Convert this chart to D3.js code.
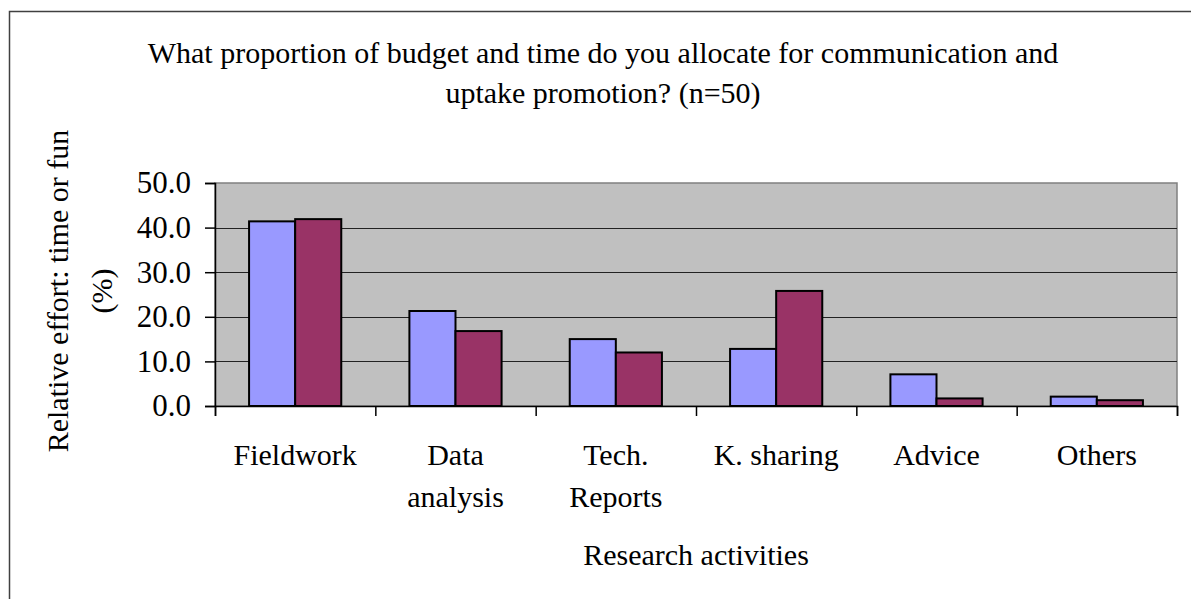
<!DOCTYPE html>
<html>
<head>
<meta charset="utf-8">
<script src="https://cdn.jsdelivr.net/npm/d3@7"></script>
<style>
  html, body { margin: 0; padding: 0; background: #fff; }
  svg { display: block; font-family: "Liberation Serif", serif; }
  svg text, svg tspan { font-family: "Liberation Serif", serif !important; fill: #000; }
</style>
</head>
<body>
<svg id="chart" width="1191" height="599"></svg>
<script>
// ---- data ----
const categories = [["Fieldwork"], ["Data", "analysis"], ["Tech.", "Reports"], ["K. sharing"], ["Advice"], ["Others"]];
const seriesNames = ["Time", "Funds"];
const timeValues = [41.4, 21.3, 15.0, 12.8, 7.1, 2.1];
const fundValues = [41.9, 16.8, 12.0, 25.8, 1.7, 1.3];
const yTicks = [0, 10, 20, 30, 40, 50];
const titleLines = ["What proportion of budget and time do you allocate for communication and", "uptake promotion? (n=50)"];
const yTitleLines = ["Relative effort: time or fun", "(%)"];
const xTitle = "Research activities";

const seriesColors = ["#9999FF", "#993366"];
const allValues = [timeValues, fundValues];
const FONT = "Liberation Serif";

const svg = d3.select("#chart");

// outer chart border
svg.append("rect").attr("x", 9.5).attr("y", 11.5).attr("width", 1300).attr("height", 700)
  .attr("fill", "#fff").attr("stroke", "#404040").attr("stroke-width", 1.5);

const plot = { left: 215, right: 1177, top: 183, bottom: 406 };

const catKeys = categories.map((c, i) => i);
const x0 = d3.scaleBand().domain(catKeys).range([plot.left, plot.right])
  .paddingInner(0.425).paddingOuter(0.2125);
const x1 = d3.scaleBand().domain(d3.range(seriesNames.length)).range([0, x0.bandwidth()]);
const y = d3.scaleLinear().domain([0, 50]).range([plot.bottom, plot.top]);

// plot background
svg.append("rect").attr("x", plot.left).attr("y", plot.top)
  .attr("width", plot.right - plot.left).attr("height", plot.bottom - plot.top)
  .attr("fill", "#C0C0C0").attr("stroke", "#808080").attr("stroke-width", 1.5);

// gridlines
svg.append("g").selectAll("line").data(yTicks.filter(t => t > 0 && t < 50)).join("line")
  .attr("x1", plot.left).attr("x2", plot.right)
  .attr("y1", d => Math.round(y(d)) + 0.5).attr("y2", d => Math.round(y(d)) + 0.5)
  .attr("stroke", "#222").attr("stroke-width", 1.2);

// bars
const groups = svg.append("g").selectAll("g").data(catKeys).join("g")
  .attr("transform", d => `translate(${x0(d)},0)`);
groups.selectAll("rect").data(i => allValues.map((vals, s) => ({ s, v: vals[i] }))).join("rect")
  .attr("x", d => x1(d.s)).attr("width", x1.bandwidth())
  .attr("y", d => y(d.v)).attr("height", d => y(0) - y(d.v))
  .attr("fill", d => seriesColors[d.s]).attr("stroke", "#000").attr("stroke-width", 2);

// y axis
const yAxis = d3.axisLeft(y).tickValues(yTicks).tickSize(10).tickPadding(14)
  .tickFormat(d3.format(".1f"));
const yg = svg.append("g").attr("transform", `translate(${plot.left},0)`).call(yAxis)
  .attr("font-family", FONT);
yg.select(".domain").attr("stroke", "#000").attr("stroke-width", 1.5);
yg.selectAll(".tick line").attr("stroke", "#000").attr("stroke-width", 1.5);
yg.selectAll(".tick text").attr("font-family", FONT).attr("font-size", 31).attr("fill", "#000");

// x axis: ticks at category boundaries
const bScale = d3.scaleLinear().domain([0, categories.length]).range([plot.left, plot.right]);
const xAxis = d3.axisBottom(bScale).tickValues(d3.range(categories.length + 1)).tickSize(10).tickFormat("");
const xg = svg.append("g").attr("transform", `translate(0,${plot.bottom})`).call(xAxis);
xg.select(".domain").attr("stroke", "#000").attr("stroke-width", 1.5);
xg.selectAll(".tick line").attr("stroke", "#000").attr("stroke-width", 1.5);

// category labels
const catG = svg.append("g").selectAll("text").data(catKeys).join("text")
  .attr("font-family", FONT).attr("text-anchor", "middle").attr("font-size", 30)
  .attr("x", d => x0(d) + x0.bandwidth() / 2).attr("y", 465);
catG.selectAll("tspan").data(d => categories[d]).join("tspan")
  .attr("x", function () { return d3.select(this.parentNode).attr("x"); })
  .attr("dy", (d, i) => i === 0 ? 0 : 42)
  .text(d => d);

// x axis title
svg.append("text").attr("font-family", FONT).attr("text-anchor", "middle").attr("font-size", 30)
  .attr("x", (plot.left + plot.right) / 2).attr("y", 565).text(xTitle);

// y axis title
const yt = svg.append("text").attr("font-family", FONT).attr("text-anchor", "middle").attr("font-size", 30)
  .attr("transform", `translate(68,${291}) rotate(-90)`);
yt.selectAll("tspan").data(yTitleLines).join("tspan")
  .attr("x", 0).attr("dy", (d, i) => i === 0 ? 0 : 44).text(d => d);

// chart title
const tt = svg.append("text").attr("font-family", FONT).attr("text-anchor", "middle").attr("font-size", 30)
  .attr("x", 603).attr("y", 63);
tt.selectAll("tspan").data(titleLines).join("tspan")
  .attr("x", 603).attr("dy", (d, i) => i === 0 ? 0 : 40).text(d => d);
</script>
</body>
</html>
